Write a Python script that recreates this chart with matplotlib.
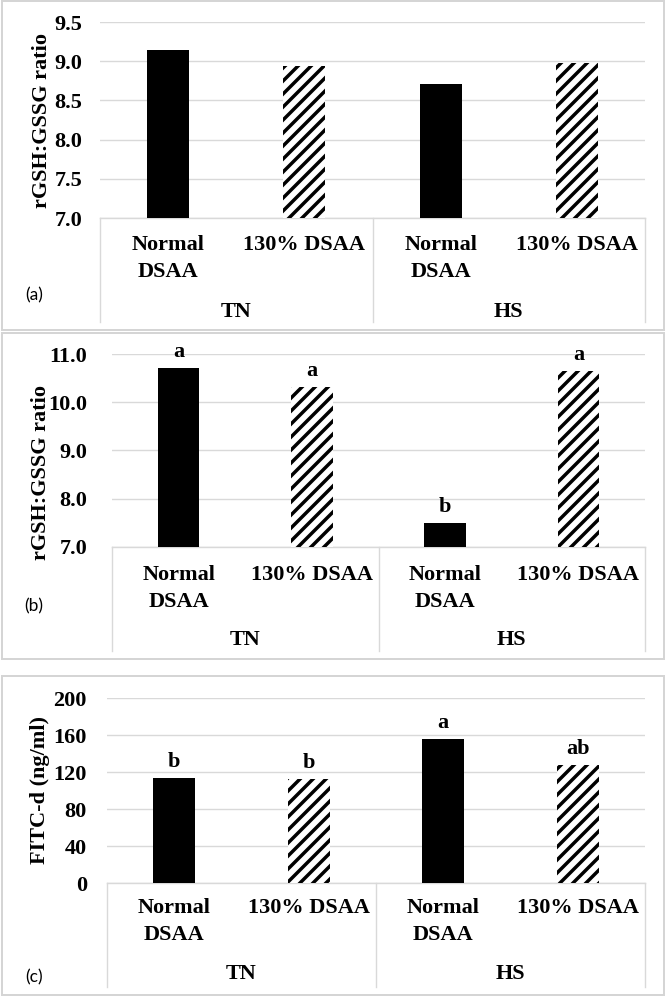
import numpy as np
import matplotlib
matplotlib.use('Agg')
import matplotlib.pyplot as plt
from matplotlib.patches import Rectangle
from matplotlib.transforms import blended_transform_factory

# data
categories = ['Normal\nDSAA', '130% DSAA', 'Normal\nDSAA', '130% DSAA']
groups = ['TN', 'HS']
vals_a = [9.14, 8.94, 8.71, 8.98]
vals_b = [10.72, 10.31, 7.49, 10.65]
vals_c = [113, 112, 156, 128]
letters_b = ['a', 'a', 'b', 'a']
letters_c = ['b', 'b', 'a', 'ab']
ticks_a = [7.0, 7.5, 8.0, 8.5, 9.0, 9.5]
ticks_b = [7.0, 8.0, 9.0, 10.0, 11.0]
ticks_c = [0, 40, 80, 120, 160, 200]

DPI = 78
W, H = 666, 997
plt.rcParams['hatch.linewidth'] = 3.2
plt.rcParams['font.family'] = ['Liberation Serif', 'DejaVu Serif']
GRID = '#d9d9d9'
FS = 20.5

def pt(px):
    return px * 72.0 / DPI

fig = plt.figure(figsize=(W / DPI, H / DPI), dpi=DPI)

# panel frames
for (t, b) in [(1, 330), (333, 659), (676, 995)]:
    fig.patches.append(Rectangle((1.5 / W, 1 - b / H), (W - 3.5) / W, (b - t) / H,
                                 transform=fig.transFigure, fill=False,
                                 edgecolor='#d4d4d4', linewidth=1.8))


def panel(box, vals, ticks, fmt, ylabel, ylab_xy, tag, tag_y, cat_off, grp_off,
          pad, letters=None):
    l, t, r, b = box
    ax = fig.add_axes([l / W, 1 - b / H, (r - l) / W, (b - t) / H])
    x = np.arange(len(vals))
    base = ticks[0]
    for i, v in enumerate(vals):
        if i % 2 == 0:
            ax.bar(x[i], v - base, 0.31, bottom=base, color='black', zorder=3)
        else:
            ax.bar(x[i], v - base, 0.31, bottom=base, facecolor='white',
                   edgecolor='black', linewidth=0, hatch='//', zorder=3)
    ax.set_xlim(-0.5, 3.5)
    ax.set_ylim(ticks[0], ticks[-1])
    ax.set_yticks(ticks)
    ax.set_yticklabels([fmt.format(tk) for tk in ticks], fontsize=FS, fontweight='bold')
    ax.tick_params(axis='y', length=0, pad=pt(pad))
    ax.set_xticks([])
    for s in ['top', 'right', 'left']:
        ax.spines[s].set_visible(False)
    ax.spines['bottom'].set_color(GRID)
    ax.spines['bottom'].set_linewidth(1.3)
    ax.grid(axis='y', color=GRID, linewidth=1.3, zorder=0)
    ax.set_axisbelow(True)

    trans = blended_transform_factory(ax.transData, ax.transAxes)
    hpx = b - t
    for i, c in enumerate(categories):
        for k, line in enumerate(c.split('\n')):
            ax.text(x[i], -(cat_off + 27 * k) / hpx, line, transform=trans,
                    ha='center', va='center', fontsize=FS, fontweight='bold')
    for j, g in enumerate(groups):
        ax.text(0.5 + 2 * j, -grp_off / hpx, g, transform=trans, ha='center',
                va='center', fontsize=FS, fontweight='bold')
    for xs in [-0.5, 1.5, 3.5]:
        ax.plot([xs, xs], [0, -104 / hpx], transform=trans, color=GRID,
                linewidth=1.3, clip_on=False)
    if letters is not None:
        for i, (v, lt) in enumerate(zip(vals, letters)):
            ax.annotate(lt, (x[i], v), xytext=(0, pt(11)), textcoords='offset points',
                        ha='center', va='baseline', fontsize=FS, fontweight='bold')
    fig.text(ylab_xy[0] / W, 1 - ylab_xy[1] / H, ylabel, rotation=90, ha='center',
             va='center', fontsize=FS, fontweight='bold')
    fig.text(34 / W, 1 - tag_y / H, tag, ha='center', va='center', fontsize=16,
             family=['Lato', 'DejaVu Sans'])
    return ax


panel((100, 22, 645, 218), vals_a, ticks_a, '{:.1f}', 'rGSH:GSSG ratio', (42, 120),
      '(a)', 295, 27, 94, 18)
panel((112, 354, 645, 547), vals_b, ticks_b, '{:.1f}', 'rGSH:GSSG ratio', (41, 473),
      '(b)', 606, 28, 93, 25, letters_b)
panel((107, 698, 645, 883), vals_c, ticks_c, '{:d}', 'FITC-d (ng/ml)', (40, 790),
      '(c)', 977, 25, 91, 20, letters_c)

fig.savefig('out.png', dpi=DPI)
